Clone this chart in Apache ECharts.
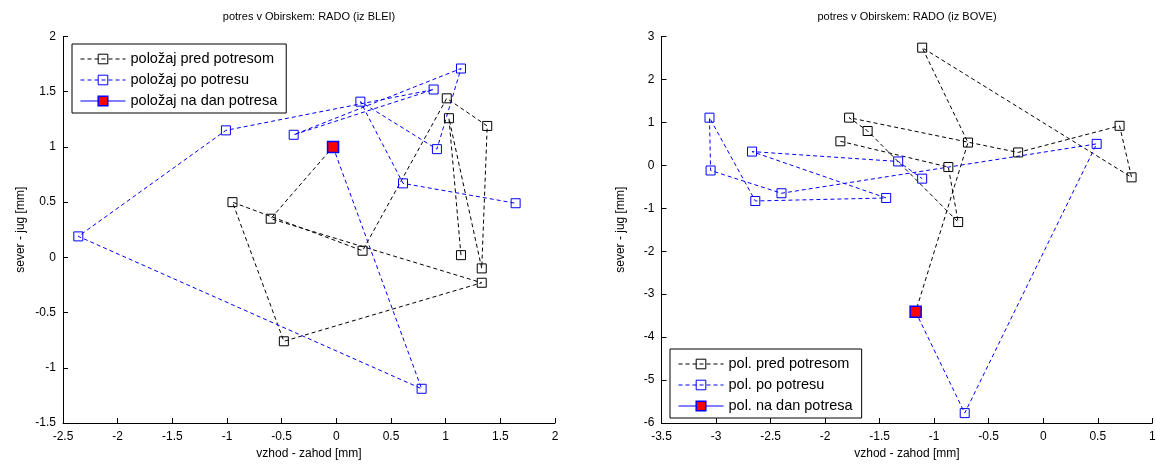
<!DOCTYPE html>
<html>
<head>
<meta charset="utf-8">
<script src="https://cdn.jsdelivr.net/npm/echarts@6/dist/echarts.min.js"></script>
<style>
html,body{margin:0;padding:0;background:#fff;}
#chart{width:1156px;height:464px;}
</style>
</head>
<body>
<div id="chart"></div>
<script>
// ---- data (x = vzhod-zahod [mm], y = sever-jug [mm]) ----
const leftTitle = 'potres v Obirskem: RADO (iz BLEI)';
const rightTitle = 'potres v Obirskem: RADO (iz BOVE)';
const xName = 'vzhod - zahod [mm]';
const yName = 'sever - jug [mm]';

const leftNames = ['položaj pred potresom', 'položaj po potresu', 'položaj na dan potresa'];
const rightNames = ['pol. pred potresom', 'pol. po potresu', 'pol. na dan potresa'];

const leftPred = [[1.14,0.02],[1.03,1.26],[1.33,-0.10],[1.38,1.19],[1.01,1.44],[0.24,0.06],
                  [-0.95,0.50],[-0.48,-0.76],[1.33,-0.23],[-0.60,0.35],[-0.03,1.00]];
const leftPo   = [[-0.03,1.00],[0.78,-1.19],[-2.36,0.19],[-1.01,1.15],[0.89,1.52],[-0.39,1.11],
                  [1.14,1.71],[0.92,0.98],[0.22,1.41],[0.61,0.67],[1.64,0.49]];
const leftDay  = [[-0.03,1.00]];

const rightPred = [[-1.86,0.56],[-0.87,-0.04],[-0.78,-1.32],[-1.61,0.80],[-1.78,1.11],[-0.23,0.30],
                   [0.70,0.92],[0.81,-0.28],[-1.11,2.74],[-0.69,0.53],[-1.17,-3.41]];
const rightPo   = [[-1.17,-3.41],[-0.72,-5.77],[0.49,0.50],[-2.40,-0.65],[-3.05,-0.12],[-3.06,1.11],
                   [-2.64,-0.83],[-1.44,-0.76],[-2.67,0.32],[-1.33,0.09],[-1.11,-0.31]];
const rightDay  = [[-1.17,-3.41]];

const leftXRange = [-2.5, 2, 0.5];
const leftYRange = [-1.5, 2, 0.5];
const rightXRange = [-3.5, 1, 0.5];
const rightYRange = [-6, 3, 1];

// ---- styling ----
const FONT = 'Liberation Sans, Arial, sans-serif';
const txt = '#000';

function fmt(v){ return String(Math.round(v*100)/100); }

function xAxis(idx, r){
  return {
    type:'value', gridIndex: idx, min:r[0], max:r[1], interval:r[2],
    name: xName, nameLocation:'middle', nameGap:23,
    nameTextStyle:{color:txt, fontFamily:FONT, fontSize:12},
    axisLine:{show:true, onZero:false, lineStyle:{color:'#000', width:1}},
    axisTick:{show:true, inside:true, length:5, lineStyle:{color:'#000'}},
    axisLabel:{color:txt, fontFamily:FONT, fontSize:12, margin:8, formatter:fmt, showMinLabel:true, showMaxLabel:true},
    splitLine:{show:false}
  };
}
function yAxis(idx, r, gap){
  return {
    type:'value', gridIndex: idx, min:r[0], max:r[1], interval:r[2],
    name: yName, nameLocation:'middle', nameGap:gap, nameRotate:90,
    nameTextStyle:{color:txt, fontFamily:FONT, fontSize:12},
    axisLine:{show:true, onZero:false, lineStyle:{color:'#000', width:1}},
    axisTick:{show:true, inside:true, length:5, lineStyle:{color:'#000'}},
    axisLabel:{color:txt, fontFamily:FONT, fontSize:12, margin:7, formatter:fmt, showMinLabel:true, showMaxLabel:true},
    splitLine:{show:false}
  };
}
function dashed(name, data, color, idx){
  return {
    name, type:'line', xAxisIndex:idx, yAxisIndex:idx, data,
    symbol:'rect', symbolSize:9, showSymbol:true,
    itemStyle:{color:'rgba(255,255,255,0)', borderColor:color, borderWidth:1},
    lineStyle:{color:color, width:1, type:[4,3]},
    emphasis:{disabled:true}, silent:true, z:2
  };
}
function day(name, data, idx){
  return {
    name, type:'line', xAxisIndex:idx, yAxisIndex:idx, data,
    symbol:'rect', symbolSize:11, showSymbol:true,
    itemStyle:{color:'#ff0000', borderColor:'#0000ff', borderWidth:1.5},
    lineStyle:{color:'#0000ff', width:1, type:'solid'},
    emphasis:{disabled:true}, silent:true, z:5
  };
}
function legend(names, left, top){
  return {
    data: names.map((n,i)=>({name:n, itemStyle:{borderWidth: i===2 ? 1.5 : 1}})),
    orient:'vertical', left, top,
    itemWidth:45, itemHeight:12, itemGap:6,
    padding:[7.5,9,4.5,8],
    lineStyle:{width:1},
    itemStyle:{borderWidth:1},
    backgroundColor:'#fff', borderColor:'#000', borderWidth:1, borderRadius:0,
    textStyle:{color:txt, fontFamily:FONT, fontSize:14.5, lineHeight:14.5},
    selectedMode:false
  };
}

const chart = echarts.init(document.getElementById('chart'), null, {renderer:'canvas'});
chart.setOption({
  animation:false,
  backgroundColor:'#fff',
  title:[
    {text:leftTitle, left:309, top:11.5, textAlign:'center', padding:0,
     textStyle:{color:txt, fontFamily:FONT, fontSize:11, fontWeight:'normal'}},
    {text:rightTitle, left:907, top:11.5, textAlign:'center', padding:0,
     textStyle:{color:txt, fontFamily:FONT, fontSize:11, fontWeight:'normal'}}
  ],
  grid:[
    {left:63, top:36.5, width:492, height:386.5, containLabel:false, outerBoundsMode:'none'},
    {left:661.5, top:36.5, width:490.8, height:386.5, containLabel:false, outerBoundsMode:'none'}
  ],
  xAxis:[xAxis(0,leftXRange), xAxis(1,rightXRange)],
  yAxis:[yAxis(0,leftYRange,36), yAxis(1,rightYRange,35)],
  legend:[
    legend(leftNames, 72, 44),
    legend(rightNames, 670, 349)
  ],
  series:[
    dashed(leftNames[0], leftPred, '#000000', 0),
    dashed(leftNames[1], leftPo, '#0000ff', 0),
    day(leftNames[2], leftDay, 0),
    dashed(rightNames[0], rightPred, '#000000', 1),
    dashed(rightNames[1], rightPo, '#0000ff', 1),
    day(rightNames[2], rightDay, 1)
  ]
});
</script>
</body>
</html>
